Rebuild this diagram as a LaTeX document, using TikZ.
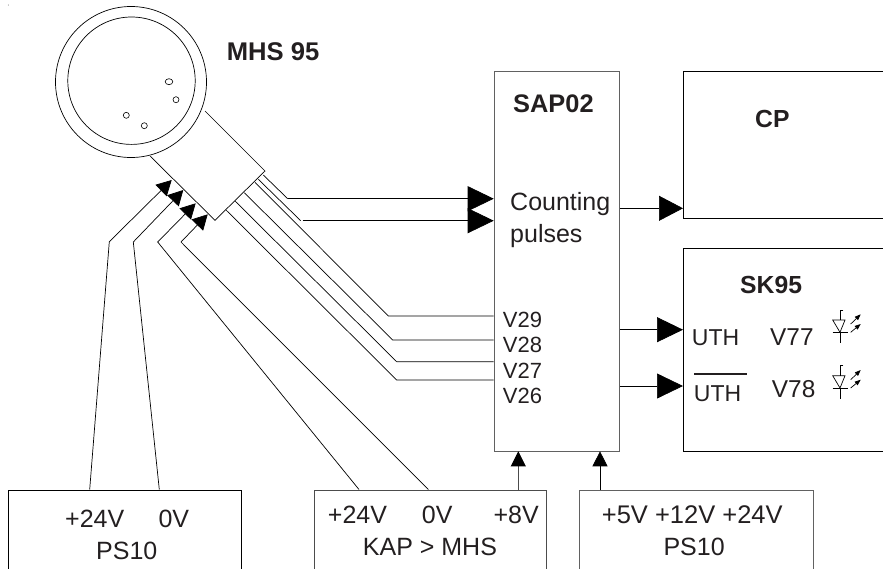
\documentclass[tikz,border=0pt]{standalone}
\usepackage{fontspec}
\setmainfont{Liberation Sans}
\usetikzlibrary{arrows.meta,calc}
\definecolor{ink}{HTML}{231F20}
\tikzset{
  wire/.style={draw=black,line width=0.7pt,line join=miter},
  boxb/.style={draw=black,line width=0.8pt,fill=none,inner sep=0pt,anchor=north west},
  boxg/.style={boxb,draw=black!62,line width=1pt},
  txt/.style={inner sep=0pt,anchor=base west,text=ink,font=\fontsize{25}{25}\selectfont},
  txtb/.style={txt,font=\fontsize{24.7}{25}\selectfont\bfseries},
  txts/.style={txt,font=\fontsize{22}{22}\selectfont},
  bigh/.style={wire,-{Triangle[length=26pt,width=25pt]},shorten >=0pt},
  bigs/.style={wire,-{Triangle[length=24pt,width=25pt]}},
  smallv/.style={wire,-{Triangle[length=15pt,width=15pt,color=black]}},
  smalld/.style={wire,-{Triangle[length=15pt,width=16pt]}},
  led/.style={line width=0.7pt,draw=black},
  ledray/.style={line width=0.7pt,draw=black,-{Triangle[length=6pt,width=4.5pt]}},
}
\begin{document}
\begin{tikzpicture}[x=1pt,y=-1pt]
\useasboundingbox (0,0) rectangle (883,568);
\clip (0,0) rectangle (883,568);
\fill[black!60] (8.3,5) circle (0.5);

% sensor
\node[circle,draw=black,line width=0.7pt,minimum size=151pt,inner sep=0pt] (outer) at (131,82) {};
\node[circle,draw=black,line width=0.7pt,minimum size=127.4pt,inner sep=0pt] (inner) at (131.5,80.7) {};
\foreach \n/\px/\py/\rx/\ry in {h1/169/81.7/3.8/3,h2/176/99.7/3/3,h3/126.3/115.3/3/3,h4/144.3/125.7/3/3}
  \draw[line width=0.6pt] (\px,\py) ellipse ({\rx} and {\ry});
\coordinate (sa) at (205,111);
\coordinate (sb) at (265,171);
\coordinate (sc) at (215,220.3);
\coordinate (sd) at (150,156);
\draw[wire] (sa) -- (sb) -- (sc) -- (sd);

% boxes
\node[boxg,minimum width=125.6pt,minimum height=380.3pt] (sap) at (493.7,71) {};
\node[boxb,minimum width=220pt,minimum height=147.3pt] (cp) at (683,71) {};
\node[boxb,minimum width=220pt,minimum height=203pt] (sk) at (683,248.3) {};
\node[boxb,minimum width=232.4pt,minimum height=100pt] (psa) at (8.3,489.5) {};
\node[boxb,draw=black!70,minimum width=231.4pt,minimum height=100pt] (kap) at (314.3,489.5) {};
\node[boxg,minimum width=233.4pt,minimum height=100pt] (psb) at (579.3,489.7) {};

% outgoing wires from sensor
\coordinate (o1s) at (263.3,175);   \coordinate (o1b) at (287.7,198.7);
\coordinate (o2s) at (258.3,179.3); \coordinate (o2b) at (300.7,220.7); \coordinate (o2c) at (302.7,220.7);
\coordinate (o3s) at (255,182.3);   \coordinate (o3b) at (388.3,316);
\coordinate (o4s) at (244.3,192.7); \coordinate (o4b) at (392.7,340);
\coordinate (o5s) at (235,201);     \coordinate (o5b) at (396.7,361.7);
\coordinate (o6s) at (226,210);     \coordinate (o6b) at (396.7,380);
\draw[wire] (o1s) -- (o1b);
\draw[bigh] (o1b) -- (sap.west |- o1b);
\draw[wire] (o2s) -- (o2b);
\draw[bigh] (o2c) -- (sap.west |- o2c);
\draw[wire] (o3s) -- (o3b) -- (sap.west |- o3b);
\draw[wire] (o4s) -- (o4b) -- (sap.west |- o4b);
\draw[wire] (o5s) -- (o5b) -- (sap.west |- o5b);
\draw[wire] (o6s) -- (o6b) -- (sap.west |- o6b);

% supply wires into sensor
\coordinate (t1) at (171.7,180);  \coordinate (b1) at (109.3,241.7); \coordinate (f1) at (89.7,489.5);
\coordinate (t2) at (183.3,190);  \coordinate (b2) at (133.3,242);   \coordinate (f2) at (159.3,489.5);
\coordinate (t3) at (195.7,203.3);\coordinate (b3) at (157.7,242);   \coordinate (f3) at (359,489.5);
\coordinate (t4) at (207.7,214.3);\coordinate (b4) at (181,242);     \coordinate (f4) at (428.3,489.5);
\draw[smalld] (f1) -- (b1) -- (t1);
\draw[smalld] (f2) -- (b2) -- (t2);
\draw[smalld] (f3) -- (b3) -- (t3);
\draw[smalld] (f4) -- (b4) -- (t4);

% block arrows
\draw[bigs] (sap.east |- 0,208.3) -- (cp.west |- 0,208.3);
\draw[bigh] (sap.east |- 0,329.7) -- (sk.west |- 0,329.7);
\draw[bigh] (sap.east |- 0,386) -- (sk.west |- 0,386);
\draw[smallv,draw=black!70] (518.3,489.5) -- (518.3,451.3);
\draw[smallv] (600,489.7) -- (600,451.3);

% texts
\node[txtb,font=\fontsize{25.6}{25}\selectfont\bfseries] (tmhs) at (226.7,60) {MHS 95};
\node[txtb,font=\fontsize{25.4}{25}\selectfont\bfseries] (tsap) at (513,112.7) {SAP02};
\node[txtb] (tcp) at (755,127.3) {CP};
\node[txt] (tc1) at (510,210.7) {Counting};
\node[txt] (tc2) at (510,242.7) {pulses};
\node[txts] (v29) at (502.7,327.7) {V29};
\node[txts] (v28) at (502.7,352.7) {V28};
\node[txts] (v27) at (502.7,378.3) {V27};
\node[txts] (v26) at (502.7,403.3) {V26};
\node[txtb] (tsk) at (740,293.3) {SK95};
\node[txt,font=\fontsize{23}{23}\selectfont] (uth) at (691.7,345) {UTH};
\node[txt,font=\fontsize{24.4}{24}\selectfont] (v77) at (770,345) {V77};
\node[txt,font=\fontsize{23}{23}\selectfont] (nuth) at (693.7,401.7) {UTH};
\node[txt,font=\fontsize{24.4}{24}\selectfont] (v78) at (771.7,397.3) {V78};
\draw[draw=ink,line width=1.2pt] (694,374) -- (747,374);

\node[txt] (a1) at (65,527.3) {+24V};
\node[txt] (a2) at (158.3,527.3) {0V};
\node[txt] (a3) at (96,559.3) {PS10};
\node[txt] (k1) at (327.7,523.3) {+24V};
\node[txt] (k2) at (421.7,523.3) {0V};
\node[txt] (k3) at (493.3,523.3) {+8V};
\node[txt] (k4) at (362.7,555) {KAP > MHS};
\node[txt,font=\fontsize{25.5}{25}\selectfont] (p1) at (601.7,523.3) {+5V +12V +24V};
\node[txt] (p2) at (663.3,555) {PS10};

% LEDs
\foreach \dy in {0,55.7}{
  \begin{scope}[yshift=-\dy pt]
    \draw[led] (843.3,310) -- (840.7,310) -- (840.7,320);
    \draw[led] (832.7,320) -- (845,320) -- (840,332.3) -- cycle;
    \draw[led] (832.7,332.3) -- (848,332.3);
    \draw[led] (840.7,332.3) -- (840.7,343.3);
    \draw[ledray] (850.7,324) -- (860.7,314.3);
    \draw[ledray] (850.7,332.3) -- (860.7,324);
  \end{scope}
}
\end{tikzpicture}
\end{document}
